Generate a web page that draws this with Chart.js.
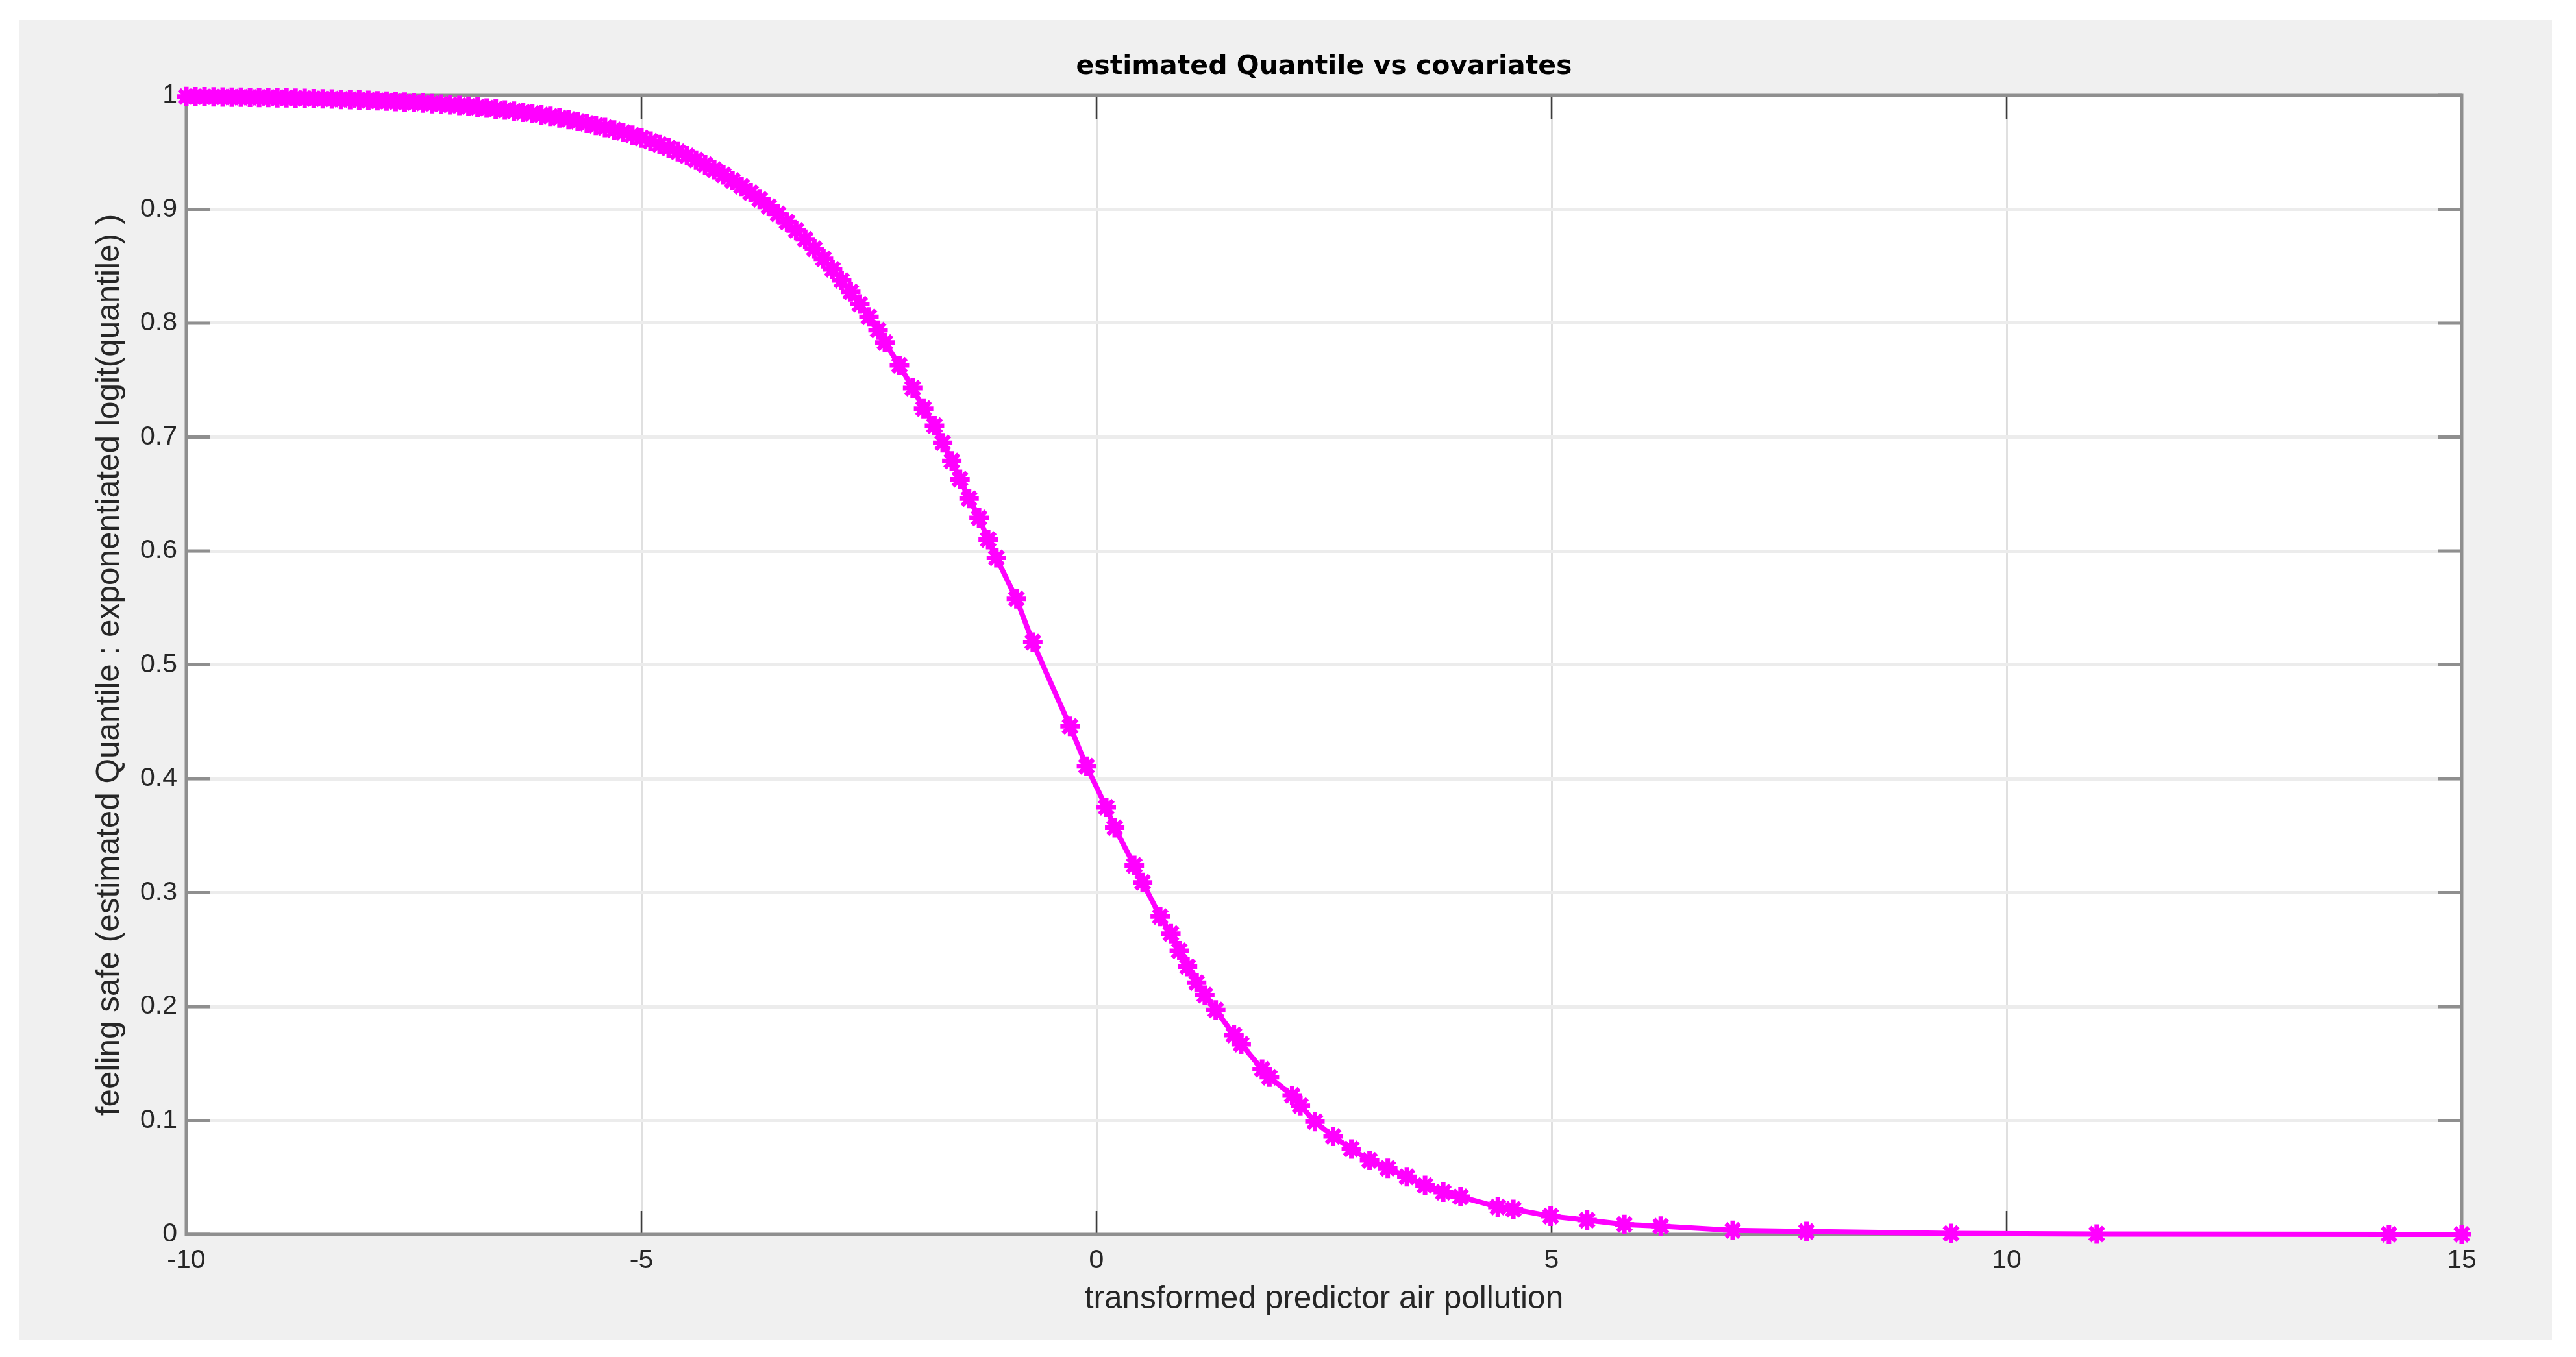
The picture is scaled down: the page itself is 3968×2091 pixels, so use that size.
<!DOCTYPE html>
<html>
<head>
<meta charset="utf-8">
<script src="https://cdn.jsdelivr.net/npm/chart.js@4.4.1/dist/chart.umd.min.js"></script>
<style>
  html, body { margin: 0; padding: 0; background: #ffffff; }
  canvas { display: block; }
</style>
</head>
<body>
<canvas id="c" width="3968" height="2091"></canvas>
<script>
// ---- data ----
const chartTitle = 'estimated Quantile vs covariates';
const xAxisLabel = 'transformed predictor air pollution';
const yAxisLabel = 'feeling safe (estimated Quantile : exponentiated logit(quantile) )';

const xTickValues = [-10, -5, 0, 5, 10, 15];
const yTickValues = [0, 0.1, 0.2, 0.3, 0.4, 0.5, 0.6, 0.7, 0.8, 0.9, 1];

// predictor values (x) of each marker
const predictorX = [
  -10.0, -9.9, -9.8, -9.7, -9.6, -9.5, -9.4, -9.3, -9.2, -9.1,
  -9.0, -8.9, -8.8, -8.7, -8.6, -8.5, -8.4, -8.3, -8.2, -8.1,
  -8.0, -7.9, -7.8, -7.7, -7.6, -7.5, -7.4, -7.3, -7.2, -7.1,
  -7.0, -6.9, -6.8, -6.7, -6.6, -6.5, -6.4, -6.3, -6.2, -6.1,
  -6.0, -5.9, -5.8, -5.7, -5.6, -5.5, -5.4, -5.3, -5.2, -5.1,
  -5.0, -4.9, -4.8, -4.7, -4.6, -4.5, -4.4, -4.3, -4.2, -4.1,
  -4.0, -3.9, -3.8, -3.7, -3.6, -3.5, -3.4, -3.3, -3.2, -3.1,
  -3.0, -2.9, -2.8, -2.7, -2.6, -2.5, -2.4,
  -2.325, -2.165, -2.02, -1.90, -1.78, -1.69, -1.59, -1.50, -1.40, -1.29,
  -1.19, -1.10, -0.88, -0.70, -0.29, -0.11, 0.107, 0.20, 0.415, 0.507,
  0.70, 0.817, 0.91, 1.00, 1.10, 1.19, 1.31, 1.51, 1.59, 1.82,
  1.90, 2.15, 2.24, 2.40, 2.60, 2.80, 3.00, 3.20, 3.41, 3.61,
  3.81, 4.00, 4.41, 4.58, 4.99, 5.39, 5.80, 6.20, 6.99, 7.80,
  9.39, 10.99, 14.2, 15.0
];

// estimated quantile (y) of each marker
const quantileY = [
  0.9990, 0.9989, 0.9988, 0.9987, 0.9986, 0.9985, 0.9984, 0.9983, 0.9982, 0.9981,
  0.9979, 0.9978, 0.9976, 0.9974, 0.9972, 0.9970, 0.9968, 0.9965, 0.9963, 0.9960,
  0.9957, 0.9953, 0.9950, 0.9946, 0.9942, 0.9938, 0.9933, 0.9928, 0.9923, 0.9917,
  0.9911, 0.9904, 0.9897, 0.9889, 0.9881, 0.9872, 0.9862, 0.9852, 0.9841, 0.9829,
  0.9816, 0.9802, 0.9788, 0.9772, 0.9755, 0.9737, 0.9718, 0.9697, 0.9675, 0.9651,
  0.9626, 0.9598, 0.9569, 0.9538, 0.9505, 0.9470, 0.9432, 0.9391, 0.9348, 0.9302,
  0.9253, 0.9201, 0.9146, 0.9087, 0.9025, 0.8959, 0.8888, 0.8814, 0.8736, 0.8653,
  0.8565, 0.8473, 0.8376, 0.8275, 0.8168, 0.8056, 0.7939,
  0.783, 0.763, 0.743, 0.725, 0.710, 0.695, 0.679, 0.663, 0.646, 0.629,
  0.610, 0.594, 0.558, 0.520, 0.446, 0.411, 0.375, 0.357, 0.324, 0.309,
  0.279, 0.264, 0.249, 0.235, 0.221, 0.210, 0.197, 0.175, 0.167, 0.145,
  0.138, 0.122, 0.113, 0.099, 0.086, 0.075, 0.065, 0.058, 0.0505, 0.043,
  0.037, 0.033, 0.024, 0.022, 0.016, 0.0125, 0.0087, 0.0072, 0.0035, 0.0025,
  0.0008, 0.0003, 0.00003, 0.00002
];

// ---- chart ----
const points = predictorX.map((x, i) => ({ x: x, y: quantileY[i] }));

const backgroundPlugin = {
  id: 'figureBackground',
  beforeDraw(chart) {
    const { ctx, chartArea: a } = chart;
    ctx.save();
    ctx.fillStyle = '#ffffff';
    ctx.fillRect(0, 0, chart.width, chart.height);
    ctx.fillStyle = '#f0f0f0';
    ctx.fillRect(30, 31, 3901, 2034);
    ctx.fillStyle = '#ffffff';
    ctx.fillRect(a.left, a.top, a.right - a.left, a.bottom - a.top);
    ctx.restore();
  }
};

const boxPlugin = {
  id: 'axesBox',
  beforeDatasetsDraw(chart) {
    const { ctx, chartArea: a, scales } = chart;
    const xs = scales.x, ys = scales.y;
    ctx.save();
    // inward x ticks (bottom and top)
    ctx.strokeStyle = '#3c3c3c';
    ctx.lineWidth = 2.5;
    xs.ticks.forEach(t => {
      const px = xs.getPixelForValue(t.value);
      ctx.beginPath();
      ctx.moveTo(px, a.bottom); ctx.lineTo(px, a.bottom - 36);
      ctx.moveTo(px, a.top); ctx.lineTo(px, a.top + 36);
      ctx.stroke();
    });
    // inward y ticks (left and right)
    ctx.strokeStyle = '#8f8f8f';
    ctx.lineWidth = 5;
    ys.ticks.forEach(t => {
      const py = ys.getPixelForValue(t.value);
      ctx.beginPath();
      ctx.moveTo(a.left, py); ctx.lineTo(a.left + 37, py);
      ctx.moveTo(a.right, py); ctx.lineTo(a.right - 37, py);
      ctx.stroke();
    });
    // box
    ctx.strokeStyle = '#8f8f8f';
    ctx.lineWidth = 5;
    ctx.strokeRect(a.left, a.top, a.right - a.left, a.bottom - a.top);
    ctx.restore();
  }
};

Chart.defaults.font.family = '"Liberation Sans", Arial, Helvetica, sans-serif';
Chart.defaults.color = '#262626';

new Chart(document.getElementById('c'), {
  type: 'scatter',
  data: {
    datasets: [{
      data: points,
      showLine: true,
      borderColor: '#ff00ff',
      backgroundColor: '#ff00ff',
      borderWidth: 8,
      tension: 0,
      pointStyle: 'star',
      pointRadius: 15,
      pointBorderWidth: 7,
      pointBorderColor: '#ff00ff',
      pointBackgroundColor: '#ff00ff',
      clip: false
    }]
  },
  options: {
    responsive: false,
    animation: false,
    devicePixelRatio: 1,
    layout: { padding: { left: 30, right: 176, top: 0, bottom: 0 } },
    plugins: {
      legend: { display: false },
      tooltip: { enabled: false },
      title: {
        display: true,
        text: chartTitle,
        fullSize: false,
        color: '#000000',
        font: { family: '"DejaVu Sans", sans-serif', size: 41, weight: 'bold', lineHeight: 1.2 },
        padding: { top: 79, bottom: 18.8 }
      }
    },
    scales: {
      x: {
        type: 'linear',
        position: 'bottom',
        min: -10,
        max: 15,
        afterBuildTicks(scale) { scale.ticks = xTickValues.map(v => ({ value: v })); },
        afterFit(scale) { scale.height = 189; },
        ticks: {
          padding: 16,
          font: { size: 41, lineHeight: 1.2 },
          color: '#262626',
          callback: (v) => String(v)
        },
        grid: {
          drawTicks: false,
          color: '#e0e0e0',
          lineWidth: 3
        },
        border: { display: false },
        title: {
          display: true,
          text: xAxisLabel,
          color: '#262626',
          font: { size: 49.5, lineHeight: 1.2 },
          padding: { top: 0, bottom: 59 }
        }
      },
      y: {
        type: 'linear',
        position: 'left',
        min: 0,
        max: 1,
        afterBuildTicks(scale) { scale.ticks = yTickValues.map(v => ({ value: v })); },
        afterFit(scale) { scale.width = 257; },
        ticks: {
          padding: 14,
          font: { size: 41, lineHeight: 1.2 },
          color: '#262626',
          callback: (v) => String(Number(Number(v).toFixed(1)))
        },
        grid: {
          drawTicks: false,
          color: '#ececec',
          lineWidth: 5
        },
        border: { display: false },
        title: {
          display: true,
          text: yAxisLabel,
          color: '#262626',
          font: { size: 49.5, lineHeight: 1.2 },
          padding: { top: 110, bottom: 0 }
        }
      }
    }
  },
  plugins: [backgroundPlugin, boxPlugin]
});
</script>
</body>
</html>
